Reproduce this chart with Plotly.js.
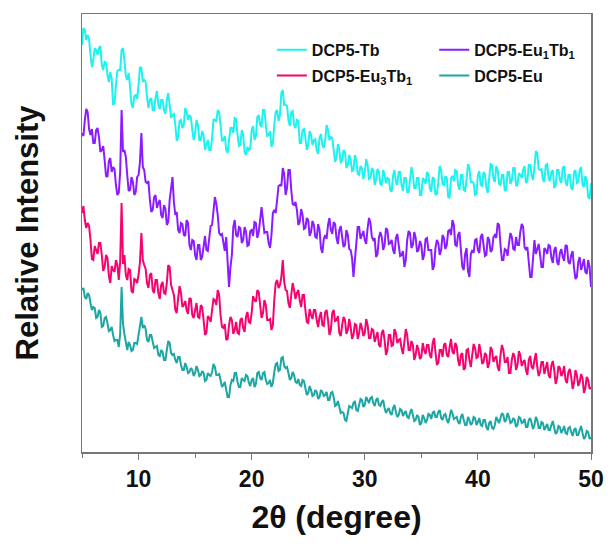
<!DOCTYPE html>
<html>
<head>
<meta charset="utf-8">
<script src="https://cdn.plot.ly/plotly-3.0.1.min.js"></script>
<style>html,body{margin:0;padding:0;background:#fff;}#chart{width:609px;height:545px;}</style>
</head>
<body>
<div id="chart"></div>
<script>
// 2θ sampling grid: 5° to 50° in 0.125° steps (361 points)
const twoThetaStart = 5;
const twoThetaStep = 0.125;

const seriesNames = ["DCP5-Tb", "DCP5-Eu<sub>3</sub>Tb<sub>1</sub>", "DCP5-Eu<sub>1</sub>Tb<sub>1</sub>", "DCP5-Eu"];

// Relative intensity (arbitrary units, offset-stacked as in the figure); one line = 5°
const dcp5Tb = [
 407,424,422,412,417,413,397,385,392,404,402,397,404,406,387,382,390,389,377,370,380,373,347,349,367,381,382,382,402,404,392,376,372,379,365,348,344,356,357,353,
 367,385,384,370,372,370,355,344,352,354,342,342,354,361,347,343,352,352,342,338,352,359,347,334,337,338,327,311,315,331,332,324,327,344,340,332,337,335,322,312,
 319,332,327,312,312,321,317,302,307,312,302,302,314,333,332,330,342,340,327,311,312,316,302,299,312,324,324,319,334,333,317,306,307,322,317,300,297,305,302,303,
 322,326,312,316,335,337,327,325,342,342,327,316,317,321,305,309,327,340,342,331,337,359,362,347,347,346,332,326,340,341,327,324,332,331,309,309,322,323,314,302,
 307,321,317,307,312,313,302,298,314,318,307,304,312,327,322,312,315,314,302,290,295,308,302,289,292,302,300,284,287,297,292,281,282,297,292,278,277,286,284,273,
 280,293,287,273,274,284,282,267,272,283,280,268,267,282,277,269,274,273,262,260,276,282,270,267,280,280,267,261,274,274,260,260,272,285,277,264,264,274,274,257,
 257,274,272,268,280,278,264,260,275,273,257,258,270,286,282,268,267,276,274,255,254,274,276,271,282,281,267,262,277,277,262,261,272,288,284,270,270,269,257,258,
 277,281,267,266,280,278,264,259,274,288,287,273,270,286,282,268,267,277,277,261,262,280,280,268,272,284,284,266,267,279,277,274,282,286,269,271,287,287,277,272,
 284,301,299,283,282,283,272,270,287,288,274,271,280,282,264,266,282,282,272,269,284,286,270,266,277,277,264,262,280,282,269,270,282,285,267,265,276,271,255,253,
 269
];

const dcp5Eu1Tb1 = [
 319,316,332,343,340,323,317,323,309,309,322,324,315,300,302,306,292,276,275,291,294,280,285,283,267,257,259,280,342,300,302,295,277,261,262,275,270,257,260,275,
 277,290,319,285,282,270,269,271,252,240,242,255,257,244,249,252,237,234,247,243,227,230,252,262,275,250,237,240,222,219,229,228,217,216,232,229,207,202,212,211,
 197,192,207,207,192,195,209,216,202,201,214,226,227,240,255,248,237,219,217,218,207,201,215,195,165,185,197,225,232,217,215,225,224,209,212,225,220,206,207,221,
 222,216,230,229,214,220,237,245,232,219,220,220,209,204,217,239,242,239,252,266,267,266,284,278,257,264,282,282,262,248,247,250,242,227,230,243,237,223,224,234,
 232,216,220,231,227,215,214,228,222,204,199,213,217,213,227,234,222,218,230,228,214,208,222,226,215,205,207,222,217,203,202,194,175,195,207,225,225,213,217,221,
 212,208,224,234,229,215,212,214,195,198,214,220,215,202,207,224,222,208,209,212,202,198,214,218,207,196,197,201,185,192,212,221,219,204,207,220,214,200,202,211,
 207,192,197,213,214,202,202,202,182,186,204,212,209,197,202,217,214,203,207,221,222,217,232,227,207,206,217,220,202,185,182,198,204,181,175,198,202,199,212,213,
 202,199,215,218,207,196,197,215,212,200,202,215,217,214,229,227,207,192,192,203,202,196,209,219,215,203,202,215,207,207,220,228,225,205,202,205,190,175,175,200,
 212,198,204,208,197,185,185,204,202,198,207,206,194,189,202,205,190,187,199,203,195,191,207,206,190,188,197,201,184,173,175,190,195,182,187,193,180,178,192,185,
 165
];

const dcp5Eu3Tb1 = [
 239,246,232,224,229,226,212,193,192,206,202,198,209,209,197,181,185,197,194,176,169,186,182,180,192,187,172,190,249,188,197,177,172,183,182,161,159,173,172,169,
 177,190,219,192,187,183,169,164,177,179,162,159,172,172,159,153,167,170,159,158,169,187,185,167,162,157,142,139,154,166,159,145,147,151,142,138,154,153,137,134,
 142,149,135,134,147,145,132,117,119,136,134,130,142,153,152,147,162,157,137,125,124,128,112,113,127,135,132,118,122,130,119,118,132,134,124,120,135,140,130,129,
 139,156,152,150,162,160,147,134,139,152,147,132,132,133,122,127,152,169,172,164,167,175,192,170,162,161,149,144,157,169,162,153,159,162,152,145,157,157,142,130,
 129,143,137,133,142,142,132,125,135,140,127,126,140,142,132,117,122,139,142,131,132,136,119,116,127,135,132,118,122,133,125,113,117,128,127,113,119,129,124,116,
 119,133,127,114,114,123,122,110,115,120,107,105,119,122,112,97,102,117,117,106,107,123,119,109,112,113,104,98,110,123,117,102,102,111,107,92,97,107,102,93,
 95,109,102,98,107,107,97,94,109,114,100,87,89,102,102,95,107,109,97,95,105,113,100,98,109,106,92,86,97,99,82,84,102,103,92,85,97,108,104,94,
 95,108,100,88,90,99,97,84,89,105,102,90,94,96,85,81,97,107,102,90,90,95,79,79,92,99,95,82,87,101,97,86,90,92,82,77,92,96,85,83,
 92,99,85,76,80,90,90,78,84,90,77,74,87,91,82,68,74,86,84,76,79,86,72,69,80,83,75,63,69,82,77,66,70,78,74,59,64,75,72,63,
 65
];

const dcp5Eu = [
 162,164,155,153,159,157,149,142,145,144,134,135,142,139,125,126,134,135,129,121,122,125,117,111,112,112,105,118,165,128,118,110,102,110,107,101,102,109,109,108,
 117,122,135,124,127,123,112,110,117,117,109,104,105,106,97,96,102,100,92,92,102,111,109,99,97,98,92,89,95,95,87,82,82,89,85,79,80,84,82,76,
 79,86,82,76,77,81,79,71,72,79,77,76,80,88,85,77,77,78,72,65,67,70,62,55,55,67,72,71,79,79,70,65,65,74,72,71,77,76,69,66,
 72,74,65,68,79,80,74,72,79,80,72,68,69,72,65,69,80,88,89,81,82,94,95,86,84,85,79,72,74,80,77,70,69,73,67,66,72,71,64,57,
 59,66,62,56,57,62,60,53,55,62,60,56,57,60,52,52,59,60,55,46,47,51,45,39,40,39,32,31,39,46,45,44,49,51,42,41,47,53,52,45,
 47,55,52,49,54,55,49,46,52,54,47,46,50,52,44,39,42,44,39,37,44,47,40,35,37,43,42,36,39,41,35,34,39,43,37,31,32,37,35,27,
 29,37,34,29,32,38,37,33,39,41,35,35,40,42,34,32,37,38,32,29,35,42,39,33,34,35,30,28,35,38,32,27,27,35,32,27,29,35,34,27,
 30,34,27,26,32,32,25,22,29,31,24,23,27,35,32,29,34,39,37,30,32,39,35,29,30,34,32,25,27,35,34,29,30,33,25,25,32,34,29,23,
 27,35,32,24,24,30,29,22,25,28,22,22,27,31,24,18,20,26,25,19,22,26,19,18,24,25,20,16,22,24,17,17,22,26,19,13,15,21,20,13,
 15
];

const xTickVals = [10, 20, 30, 40, 50];
const xTickText = ["10", "20", "30", "40", "50"];

// order matches legend layout: column 1 = Tb, Eu3Tb1 ; column 2 = Eu1Tb1, Eu
const seriesValues = [dcp5Tb, dcp5Eu3Tb1, dcp5Eu1Tb1, dcp5Eu];
const seriesColors = ["#1EF2EE", "#F5036E", "#8A1CFF", "#1CA6A4"];
const seriesLegend = ["legend", "legend", "legend2", "legend2"];

const twoTheta = dcp5Tb.map((_, i) => twoThetaStart + i * twoThetaStep);

const traces = seriesValues.map((vals, k) => ({
  x: twoTheta,
  y: vals,
  type: "scatter",
  mode: "lines",
  name: seriesNames[k],
  legend: seriesLegend[k],
  legendgroup: "g" + k,
  line: {color: seriesColors[k], width: 2}
}));

const font = "'Liberation Sans', Arial, sans-serif";
const legendFont = {family: font, size: 16, color: "#111", weight: "bold"};

const layout = {
  width: 609,
  height: 545,
  margin: {l: 82, r: 18, t: 14, b: 93},
  paper_bgcolor: "#ffffff",
  plot_bgcolor: "#ffffff",
  showlegend: true,
  legend: {
    x: 0.373, y: 0.957, xanchor: "left", yanchor: "top",
    bgcolor: "rgba(0,0,0,0)", font: legendFont, tracegroupgap: 2
  },
  legend2: {
    x: 0.692, y: 0.957, xanchor: "left", yanchor: "top",
    bgcolor: "rgba(0,0,0,0)", font: legendFont, tracegroupgap: 2
  },
  xaxis: {
    range: [5, 50],
    tickvals: xTickVals,
    ticktext: xTickText,
    ticks: "outside",
    ticklen: 6,
    tickwidth: 1,
    tickcolor: "#777",
    minor: {dtick: 5, ticks: "outside", ticklen: 4, tickcolor: "#777"},
    showline: true,
    linecolor: "#777",
    linewidth: 1.5,
    mirror: true,
    showgrid: false,
    zeroline: false,
    tickfont: {family: font, size: 23, color: "#111", weight: "bold"},
    title: {text: "2θ (degree)", font: {family: font, size: 32, color: "#111", weight: "bold"}, standoff: 14}
  },
  yaxis: {
    range: [0, 438],
    showticklabels: false,
    ticks: "",
    showline: true,
    linecolor: "#777",
    linewidth: 1.5,
    mirror: true,
    showgrid: false,
    zeroline: false,
    title: {text: "Relative Intensity", font: {family: font, size: 31, color: "#111", weight: "bold"}, standoff: 32}
  }
};

Plotly.newPlot("chart", traces, layout, {displayModeBar: false, staticPlot: true});
</script>
</body>
</html>
